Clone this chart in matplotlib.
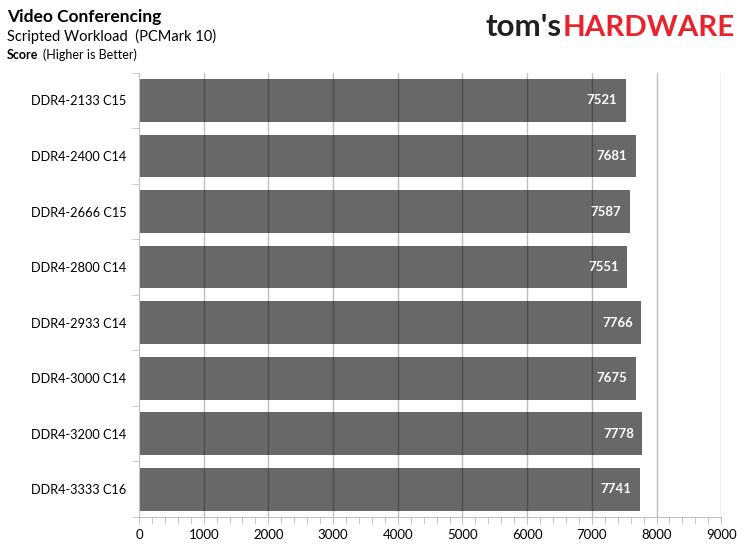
import numpy as np
import matplotlib.pyplot as plt
from matplotlib.ticker import MultipleLocator, FixedLocator

# data
configs = ["DDR4-2133 C15", "DDR4-2400 C14", "DDR4-2666 C15", "DDR4-2800 C14",
           "DDR4-2933 C14", "DDR4-3000 C14", "DDR4-3200 C14", "DDR4-3333 C16"]
scores = [7521, 7681, 7587, 7551, 7766, 7675, 7778, 7741]
x_ticks = [0, 1000, 2000, 3000, 4000, 5000, 6000, 7000, 8000, 9000]

plt.rcParams['font.family'] = ['Lato', 'DejaVu Sans']

fig = plt.figure(figsize=(7.44, 5.49), dpi=100)
ax = fig.add_axes([0.1868, 0.0583, 0.7826, 0.8093])

ypos = np.arange(len(configs))
bars = ax.barh(ypos, scores, height=0.77, color="#6a6866", zorder=2)
ax.set_ylim(len(configs) - 0.5, -0.5)
ax.set_xlim(0, 9000)

# gridlines sit on top of the bars, a bit darker over them
for t in x_ticks[1:]:
    ax.axvline(t, color="black", alpha=0.25, lw=1, zorder=3)

for b, s in zip(bars, scores):
    ax.text(b.get_width() - 130, b.get_y() + b.get_height() / 2, str(s),
            ha="right", va="center", color="white", fontsize=9.5,
            fontweight="bold", zorder=4)

ax.set_yticks(ypos)
ax.set_yticklabels(configs, fontsize=9.2)
ax.yaxis.set_minor_locator(FixedLocator(np.arange(-0.5, len(configs), 1)))
ax.tick_params(axis="y", which="major", length=0, pad=9)
ax.tick_params(axis="y", which="minor", length=5, color="#bfbfbf")

ax.set_xticks(x_ticks)
ax.xaxis.set_minor_locator(MultipleLocator(200))
ax.tick_params(axis="x", which="both", length=5, color="#bfbfbf", labelsize=9.5, pad=4)

for side in ["top", "right"]:
    ax.spines[side].set_visible(False)
for side in ["left", "bottom"]:
    ax.spines[side].set_color("#bfbfbf")

fig.text(0.009, 0.96, "Video Conferencing", fontsize=12.5, fontweight="bold", va="baseline")
fig.text(0.009, 0.925, "Scripted Workload  (PCMark 10)", fontsize=10.5, va="baseline")
fig.text(0.009, 0.892, "Score", fontsize=9, fontweight="bold", va="baseline")
fig.text(0.058, 0.892, "(Higher is Better)", fontsize=9, va="baseline")

# logo text, squeezed to the width it takes in the reference
renderer = fig.canvas.get_renderer()
hw = fig.text(0.988, 0.935, "HARDWARE", fontsize=22, fontweight="bold",
              color="#e8232b", ha="right", va="baseline")
w = hw.get_window_extent(renderer).width
hw.set_fontsize(22 * 172 / w)
toms = fig.text(0.755, 0.935, "tom's", fontsize=22, fontweight="bold",
                color="#231f20", ha="right", va="baseline")
w = toms.get_window_extent(renderer).width
toms.set_fontsize(22 * 76 / w)

plt.savefig("out.png", dpi=100)
